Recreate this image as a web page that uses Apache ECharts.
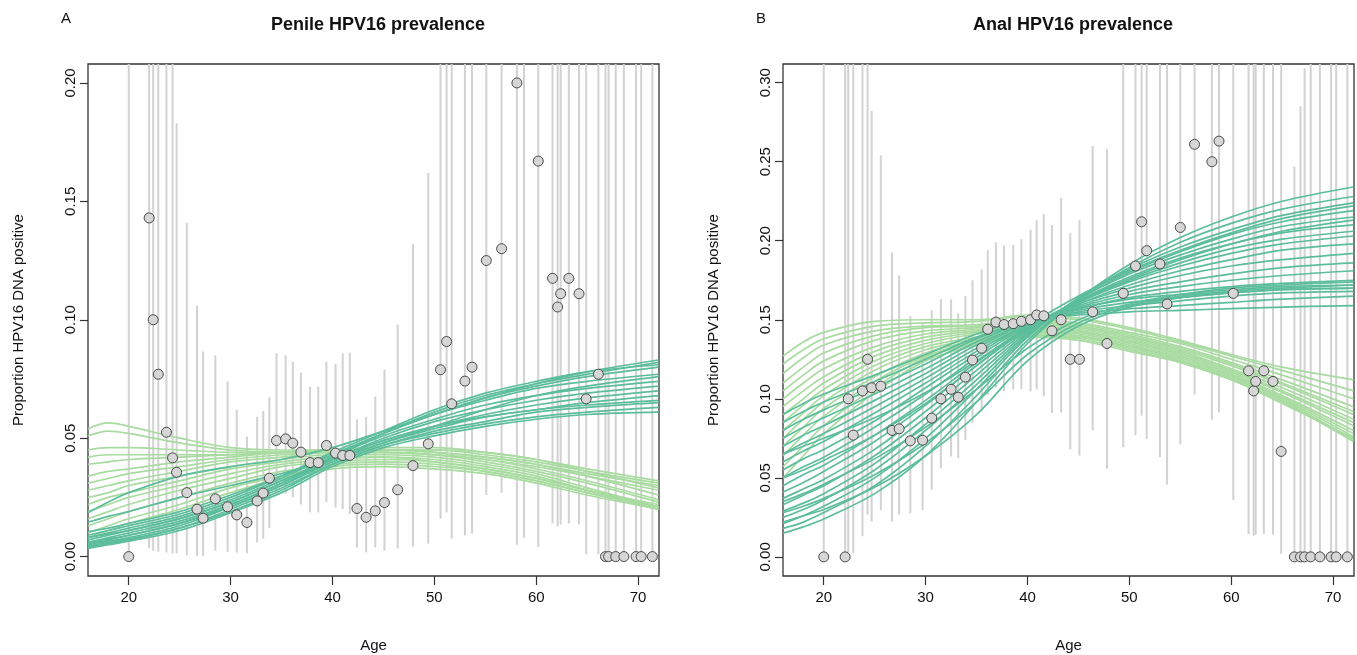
<!DOCTYPE html>
<html>
<head>
<meta charset="utf-8">
<title>HPV16 prevalence</title>
<script src="https://cdn.jsdelivr.net/npm/echarts@6/dist/echarts.min.js"></script>
<style>
  html, body { margin: 0; padding: 0; background: #fff; }
  #chart { width: 1357px; height: 655px; }
</style>
</head>
<body>
<div id="chart"></div>
<script>
const curveAges = [16, 18, 20, 25, 30, 35, 40, 45, 50, 55, 60, 65, 72]
const ageTicks = [20, 30, 40, 50, 60, 70]
const penileTicks = [0, 0.05, 0.10, 0.15, 0.20]
const analTicks = [0, 0.05, 0.10, 0.15, 0.20, 0.25, 0.30]

// panel A: observed prevalence with 95% CI (0.5 = runs off the top)
const penileAge = [20.0, 22.0, 22.4, 22.9, 23.7, 24.3, 24.7, 25.7, 26.7, 27.3, 28.5, 29.7, 30.6, 31.6, 32.6, 33.2, 33.8, 34.5, 35.4, 36.1, 36.9, 37.8, 38.6, 39.4, 40.3, 41.0, 41.7, 42.4, 43.3, 44.2, 45.1, 46.4, 47.9, 49.4, 50.6, 51.2, 51.7, 53.0, 53.7, 55.1, 56.6, 58.1, 58.8, 60.2, 61.6, 62.1, 62.4, 63.2, 64.2, 64.9, 66.1, 66.8, 67.1, 67.8, 68.6, 69.8, 70.3, 71.4]
const penileProp = [0, 0.143, 0.100, 0.077, 0.0525, 0.0417, 0.0356, 0.027, 0.020, 0.0162, 0.0244, 0.021, 0.0176, 0.0144, 0.0235, 0.0268, 0.0331, 0.049, 0.0497, 0.0479, 0.0441, 0.0397, 0.0397, 0.0469, 0.0437, 0.0427, 0.0427, 0.0203, 0.0166, 0.0193, 0.0228, 0.0282, 0.0384, 0.0476, 0.0789, 0.0908, 0.0645, 0.0741, 0.080, 0.125, 0.130, 0.200, 0.333, 0.167, 0.1175, 0.1054, 0.111, 0.1175, 0.111, 0.0666, 0.077, 0, 0, 0, 0, 0, 0, 0]
const penileLow = [0, 0.0035, 0.0025, 0.002, 0.0017, 0.0014, 0.0014, 0.0006, 0.0003, 0.0002, 0.0025, 0.002, 0.0017, 0.0014, 0.006, 0.0075, 0.012, 0.027, 0.0265, 0.025, 0.022, 0.0186, 0.0186, 0.023, 0.0207, 0.020, 0.018, 0.0038, 0.0017, 0.0038, 0.0025, 0.0034, 0.0042, 0.0055, 0.016, 0.0186, 0.0076, 0.0089, 0.0097, 0.026, 0.027, 0.005, 0.008, 0.004, 0.014, 0.0127, 0.0135, 0.014, 0.0135, 0.001, 0.001, 0, 0, 0, 0, 0, 0, 0]
const penileHigh = [0.5, 0.5, 0.5, 0.5, 0.5, 0.5, 0.183, 0.141, 0.106, 0.0866, 0.085, 0.074, 0.062, 0.0507, 0.059, 0.0615, 0.0673, 0.0859, 0.085, 0.0823, 0.0777, 0.0718, 0.0718, 0.0823, 0.0814, 0.0859, 0.0861, 0.058, 0.059, 0.0676, 0.079, 0.098, 0.132, 0.162, 0.5, 0.5, 0.5, 0.5, 0.5, 0.5, 0.5, 0.5, 0.5, 0.5, 0.5, 0.5, 0.5, 0.5, 0.5, 0.5, 0.5, 0.5, 0.5, 0.5, 0.5, 0.5, 0.5, 0.5]

// panel B
const analAge = [20.0, 22.1, 22.4, 22.9, 23.8, 24.3, 24.7, 25.6, 26.7, 27.4, 28.5, 29.7, 30.6, 31.5, 32.5, 33.2, 33.9, 34.6, 35.5, 36.1, 36.9, 37.7, 38.6, 39.4, 40.3, 40.9, 41.6, 42.4, 43.3, 44.2, 45.1, 46.4, 47.8, 49.4, 50.6, 51.2, 51.7, 53.0, 53.7, 55.0, 56.4, 58.1, 58.8, 60.2, 61.7, 62.2, 62.4, 63.2, 64.1, 64.9, 66.2, 66.8, 67.2, 67.8, 68.7, 69.8, 70.3, 71.4]
const analProp = [0, 0, 0.100, 0.077, 0.105, 0.125, 0.107, 0.108, 0.080, 0.081, 0.0734, 0.0738, 0.0878, 0.100, 0.106, 0.101, 0.1137, 0.1245, 0.132, 0.144, 0.1485, 0.147, 0.1475, 0.149, 0.150, 0.153, 0.1525, 0.143, 0.150, 0.125, 0.125, 0.155, 0.135, 0.1667, 0.184, 0.212, 0.1937, 0.1853, 0.160, 0.2084, 0.261, 0.250, 0.263, 0.1667, 0.1177, 0.105, 0.111, 0.1177, 0.111, 0.0667, 0, 0, 0, 0, 0, 0, 0, 0]
const analLow = [0, 0, 0.003, 0.0025, 0.013, 0.0266, 0.0223, 0.0297, 0.0223, 0.0266, 0.0276, 0.0297, 0.0424, 0.056, 0.0635, 0.0625, 0.074, 0.0846, 0.092, 0.1025, 0.107, 0.105, 0.106, 0.106, 0.1046, 0.106, 0.1015, 0.091, 0.0913, 0.068, 0.064, 0.080, 0.0557, 0.0694, 0.077, 0.0894, 0.0745, 0.063, 0.0456, 0.0713, 0.1025, 0.0867, 0.0913, 0.036, 0.0144, 0.0133, 0.014, 0.0144, 0.014, 0.002, 0, 0, 0, 0, 0, 0, 0, 0]
const analHigh = [0.5, 0.5, 0.5, 0.5, 0.5, 0.5, 0.282, 0.254, 0.1926, 0.178, 0.1525, 0.148, 0.156, 0.163, 0.163, 0.154, 0.165, 0.175, 0.182, 0.194, 0.199, 0.197, 0.1975, 0.201, 0.207, 0.213, 0.217, 0.210, 0.227, 0.205, 0.213, 0.260, 0.258, 0.5, 0.5, 0.5, 0.5, 0.5, 0.5, 0.5, 0.5, 0.5, 0.5, 0.5, 0.5, 0.5, 0.5, 0.5, 0.5, 0.5, 0.247, 0.285, 0.309, 0.5, 0.5, 0.5, 0.5, 0.5]

// fitted curves, one row per curve, values at curveAges
const penileLight = [
  [0.054, 0.0565, 0.055, 0.050, 0.046, 0.045, 0.045, 0.045, 0.044, 0.042, 0.039, 0.035, 0.030],
  [0.051, 0.053, 0.052, 0.048, 0.045, 0.044, 0.044, 0.044, 0.043, 0.041, 0.038, 0.034, 0.028],
  [0.045, 0.046, 0.046, 0.045, 0.044, 0.044, 0.044, 0.045, 0.045, 0.043, 0.040, 0.036, 0.031],
  [0.042, 0.043, 0.043, 0.043, 0.043, 0.044, 0.045, 0.045, 0.045, 0.044, 0.041, 0.037, 0.032],
  [0.039, 0.040, 0.041, 0.042, 0.043, 0.044, 0.045, 0.046, 0.046, 0.044, 0.041, 0.036, 0.029],
  [0.034, 0.036, 0.037, 0.040, 0.042, 0.044, 0.045, 0.045, 0.044, 0.042, 0.039, 0.034, 0.026],
  [0.031, 0.033, 0.035, 0.038, 0.041, 0.043, 0.044, 0.044, 0.043, 0.041, 0.037, 0.032, 0.024],
  [0.028, 0.030, 0.032, 0.036, 0.040, 0.042, 0.044, 0.044, 0.043, 0.040, 0.036, 0.031, 0.023],
  [0.025, 0.027, 0.030, 0.034, 0.038, 0.041, 0.043, 0.043, 0.042, 0.039, 0.035, 0.029, 0.021],
  [0.022, 0.025, 0.027, 0.032, 0.037, 0.040, 0.042, 0.042, 0.041, 0.038, 0.034, 0.028, 0.020],
  [0.019, 0.022, 0.025, 0.030, 0.035, 0.039, 0.041, 0.042, 0.040, 0.037, 0.033, 0.028, 0.021],
  [0.016, 0.019, 0.022, 0.028, 0.033, 0.038, 0.040, 0.041, 0.040, 0.037, 0.033, 0.028, 0.022],
  [0.013, 0.016, 0.019, 0.025, 0.031, 0.036, 0.039, 0.040, 0.039, 0.036, 0.032, 0.027, 0.021],
  [0.010, 0.013, 0.016, 0.022, 0.029, 0.034, 0.038, 0.039, 0.038, 0.036, 0.032, 0.027, 0.020],
  [0.008, 0.011, 0.014, 0.020, 0.027, 0.033, 0.037, 0.038, 0.037, 0.035, 0.031, 0.026, 0.020]
]
const penileTeal = [
  [0.0185, 0.023, 0.027, 0.034, 0.038, 0.041, 0.046, 0.053, 0.060, 0.067, 0.073, 0.078, 0.083],
  [0.0145, 0.017, 0.019, 0.025, 0.030, 0.035, 0.041, 0.048, 0.055, 0.062, 0.068, 0.072, 0.076],
  [0.0105, 0.012, 0.014, 0.019, 0.026, 0.034, 0.043, 0.052, 0.060, 0.067, 0.072, 0.076, 0.080],
  [0.009, 0.011, 0.013, 0.018, 0.025, 0.034, 0.044, 0.053, 0.062, 0.069, 0.074, 0.078, 0.081],
  [0.008, 0.010, 0.012, 0.017, 0.024, 0.033, 0.043, 0.052, 0.060, 0.066, 0.071, 0.074, 0.077],
  [0.007, 0.009, 0.011, 0.016, 0.023, 0.032, 0.042, 0.051, 0.058, 0.064, 0.068, 0.071, 0.074],
  [0.006, 0.008, 0.010, 0.015, 0.022, 0.031, 0.041, 0.050, 0.057, 0.062, 0.066, 0.069, 0.072],
  [0.0055, 0.007, 0.009, 0.014, 0.021, 0.030, 0.041, 0.049, 0.055, 0.060, 0.064, 0.067, 0.070],
  [0.005, 0.0065, 0.008, 0.013, 0.021, 0.030, 0.040, 0.048, 0.054, 0.059, 0.062, 0.065, 0.068],
  [0.0045, 0.006, 0.0075, 0.012, 0.020, 0.029, 0.039, 0.047, 0.053, 0.057, 0.061, 0.063, 0.065],
  [0.004, 0.0055, 0.007, 0.012, 0.019, 0.028, 0.039, 0.047, 0.052, 0.056, 0.059, 0.061, 0.063],
  [0.0035, 0.005, 0.0065, 0.011, 0.0185, 0.027, 0.038, 0.046, 0.051, 0.055, 0.058, 0.060, 0.061],
  [0.006, 0.0075, 0.009, 0.014, 0.022, 0.031, 0.042, 0.052, 0.061, 0.068, 0.073, 0.077, 0.082],
  [0.008, 0.0095, 0.011, 0.016, 0.023, 0.032, 0.041, 0.049, 0.055, 0.059, 0.062, 0.064, 0.066]
]
const analLight = [
  [0.127, 0.136, 0.142, 0.149, 0.150, 0.150, 0.152, 0.150, 0.144, 0.136, 0.127, 0.118, 0.105],
  [0.122, 0.131, 0.138, 0.146, 0.148, 0.149, 0.153, 0.151, 0.145, 0.137, 0.128, 0.120, 0.112],
  [0.116, 0.126, 0.134, 0.143, 0.146, 0.147, 0.150, 0.148, 0.142, 0.135, 0.125, 0.115, 0.100],
  [0.110, 0.120, 0.129, 0.140, 0.145, 0.146, 0.149, 0.147, 0.141, 0.133, 0.123, 0.112, 0.095],
  [0.105, 0.115, 0.124, 0.137, 0.143, 0.145, 0.148, 0.146, 0.140, 0.132, 0.122, 0.110, 0.092],
  [0.100, 0.110, 0.119, 0.133, 0.141, 0.144, 0.147, 0.145, 0.139, 0.131, 0.121, 0.109, 0.090],
  [0.095, 0.105, 0.114, 0.130, 0.139, 0.143, 0.146, 0.144, 0.138, 0.130, 0.119, 0.107, 0.087],
  [0.090, 0.100, 0.110, 0.127, 0.137, 0.142, 0.145, 0.143, 0.137, 0.129, 0.118, 0.105, 0.085],
  [0.085, 0.096, 0.106, 0.124, 0.135, 0.141, 0.144, 0.142, 0.136, 0.128, 0.117, 0.104, 0.083],
  [0.080, 0.091, 0.102, 0.121, 0.133, 0.139, 0.143, 0.141, 0.135, 0.127, 0.116, 0.102, 0.080],
  [0.075, 0.087, 0.098, 0.118, 0.131, 0.138, 0.142, 0.140, 0.134, 0.126, 0.115, 0.101, 0.078],
  [0.070, 0.082, 0.094, 0.114, 0.129, 0.137, 0.141, 0.139, 0.133, 0.125, 0.114, 0.100, 0.076],
  [0.064, 0.077, 0.089, 0.111, 0.127, 0.136, 0.140, 0.139, 0.132, 0.124, 0.113, 0.099, 0.074],
  [0.057, 0.070, 0.083, 0.107, 0.126, 0.135, 0.140, 0.138, 0.131, 0.123, 0.112, 0.098, 0.073],
  [0.050, 0.064, 0.078, 0.104, 0.124, 0.134, 0.139, 0.137, 0.130, 0.123, 0.112, 0.097, 0.075]
]
const analTeal = [
  [0.015, 0.019, 0.024, 0.040, 0.064, 0.098, 0.135, 0.163, 0.185, 0.202, 0.215, 0.225, 0.234],
  [0.018, 0.022, 0.028, 0.045, 0.070, 0.102, 0.137, 0.163, 0.183, 0.199, 0.211, 0.220, 0.228],
  [0.021, 0.026, 0.032, 0.050, 0.075, 0.106, 0.139, 0.164, 0.182, 0.196, 0.207, 0.216, 0.224],
  [0.025, 0.030, 0.036, 0.055, 0.080, 0.109, 0.140, 0.163, 0.180, 0.193, 0.204, 0.212, 0.219],
  [0.029, 0.034, 0.040, 0.059, 0.084, 0.112, 0.141, 0.163, 0.179, 0.191, 0.201, 0.209, 0.215],
  [0.033, 0.039, 0.045, 0.064, 0.088, 0.115, 0.142, 0.162, 0.177, 0.189, 0.198, 0.205, 0.210],
  [0.037, 0.043, 0.049, 0.068, 0.092, 0.118, 0.143, 0.161, 0.175, 0.186, 0.195, 0.201, 0.206],
  [0.041, 0.047, 0.054, 0.073, 0.096, 0.121, 0.144, 0.161, 0.174, 0.184, 0.192, 0.198, 0.203],
  [0.045, 0.052, 0.058, 0.077, 0.099, 0.123, 0.145, 0.160, 0.172, 0.181, 0.188, 0.194, 0.198],
  [0.050, 0.057, 0.063, 0.082, 0.103, 0.126, 0.146, 0.160, 0.170, 0.178, 0.184, 0.188, 0.192],
  [0.055, 0.062, 0.068, 0.086, 0.107, 0.128, 0.147, 0.159, 0.168, 0.174, 0.179, 0.183, 0.186],
  [0.060, 0.067, 0.073, 0.091, 0.110, 0.130, 0.147, 0.158, 0.166, 0.171, 0.175, 0.178, 0.181],
  [0.065, 0.072, 0.078, 0.095, 0.113, 0.132, 0.148, 0.157, 0.164, 0.168, 0.171, 0.173, 0.175],
  [0.070, 0.077, 0.083, 0.099, 0.116, 0.134, 0.148, 0.157, 0.163, 0.166, 0.169, 0.171, 0.172],
  [0.075, 0.082, 0.088, 0.103, 0.119, 0.136, 0.149, 0.156, 0.161, 0.164, 0.167, 0.169, 0.170],
  [0.080, 0.087, 0.093, 0.107, 0.122, 0.138, 0.149, 0.155, 0.159, 0.162, 0.165, 0.167, 0.168],
  [0.085, 0.092, 0.098, 0.111, 0.125, 0.139, 0.149, 0.154, 0.157, 0.159, 0.161, 0.163, 0.165],
  [0.090, 0.097, 0.103, 0.115, 0.128, 0.141, 0.150, 0.153, 0.155, 0.156, 0.157, 0.158, 0.159],
  [0.035, 0.040, 0.046, 0.062, 0.082, 0.106, 0.132, 0.150, 0.160, 0.166, 0.170, 0.172, 0.174],
  [0.028, 0.032, 0.037, 0.052, 0.072, 0.098, 0.128, 0.148, 0.159, 0.165, 0.168, 0.170, 0.172],
  [0.022, 0.026, 0.030, 0.044, 0.064, 0.090, 0.124, 0.146, 0.158, 0.164, 0.167, 0.169, 0.170],
  [0.065, 0.070, 0.075, 0.088, 0.104, 0.124, 0.145, 0.162, 0.176, 0.188, 0.198, 0.206, 0.213],
  [0.050, 0.055, 0.061, 0.077, 0.097, 0.121, 0.146, 0.165, 0.181, 0.194, 0.205, 0.214, 0.222]
]

const LIGHT = '#a8dba0'
const TEAL = '#5cbd9c'
const FONT = 'Liberation Sans, Arial, Helvetica, sans-serif'

function curveSeries(list, color, idx) {
  return list.map(vals => ({
    type: 'line',
    xAxisIndex: idx,
    yAxisIndex: idx,
    data: vals.map((v, i) => [curveAges[i], v]),
    smooth: 0.35,
    symbol: 'none',
    silent: true,
    clip: true,
    lineStyle: { color: color, width: 1.7 },
    z: 3
  }))
}

function barSeries(ages, low, high, idx) {
  return {
    type: 'custom',
    xAxisIndex: idx,
    yAxisIndex: idx,
    clip: true,
    silent: true,
    z: 2,
    data: ages.map((a, i) => [a, low[i], high[i]]),
    encode: { x: 0, y: [1, 2] },
    renderItem(params, api) {
      const p1 = api.coord([api.value(0), api.value(1)])
      const p2 = api.coord([api.value(0), api.value(2)])
      return {
        type: 'line',
        shape: { x1: p1[0], y1: p1[1], x2: p2[0], y2: p2[1] },
        style: { stroke: '#d2d2d2', lineWidth: 2 }
      }
    }
  }
}

function pointSeries(ages, props, idx) {
  return {
    type: 'scatter',
    xAxisIndex: idx,
    yAxisIndex: idx,
    clip: true,
    silent: true,
    z: 5,
    symbolSize: 10,
    data: ages.map((a, i) => [a, props[i]]),
    itemStyle: { color: '#d6d6d6', borderColor: '#4a4a4a', borderWidth: 1, opacity: 1 }
  }
}

function xAxisFor(idx) {
  return {
    gridIndex: idx,
    type: 'value',
    min: 16,
    max: 72.05,
    name: 'Age',
    nameLocation: 'middle',
    nameGap: 62,
    nameTextStyle: { fontSize: 15, color: '#111', fontFamily: FONT },
    splitLine: { show: false },
    axisLine: { show: false, onZero: false },
    axisTick: { show: true, length: 9, customValues: ageTicks, lineStyle: { color: '#333', width: 1.2 } },
    axisLabel: { customValues: ageTicks, fontSize: 15, color: '#111', margin: 14, fontFamily: FONT }
  }
}

function yAxisFor(idx, min, max, ticks) {
  return {
    gridIndex: idx,
    type: 'value',
    min: min,
    max: max,
    name: 'Proportion HPV16 DNA positive',
    nameLocation: 'middle',
    nameGap: 62,
    nameTextStyle: { fontSize: 15, color: '#111', fontFamily: FONT },
    splitLine: { show: false },
    axisLine: { show: false, onZero: false },
    axisTick: { show: true, length: 8, customValues: ticks, lineStyle: { color: '#333', width: 1.2 } },
    axisLabel: {
      customValues: ticks,
      rotate: 90,
      fontSize: 15,
      color: '#111',
      margin: 10,
      fontFamily: FONT,
      formatter: v => v.toFixed(2)
    }
  }
}

const gridBase = {
  top: 64, width: 571, height: 512, show: true,
  borderColor: '#333', borderWidth: 1.3, backgroundColor: 'transparent',
  containLabel: false, outerBoundsMode: 'none'
}

const chart = echarts.init(document.getElementById('chart'))
chart.setOption({
  animation: false,
  backgroundColor: '#fff',
  title: [
    { text: 'Penile HPV16 prevalence', left: 373, top: 11, textAlign: 'center',
      textStyle: { fontSize: 18, fontWeight: 'bold', color: '#111', fontFamily: FONT } },
    { text: 'Anal HPV16 prevalence', left: 1068, top: 11, textAlign: 'center',
      textStyle: { fontSize: 18, fontWeight: 'bold', color: '#111', fontFamily: FONT } },
    { text: 'A', left: 56, top: 6, textStyle: { fontSize: 15, fontWeight: 'normal', color: '#111', fontFamily: FONT } },
    { text: 'B', left: 751, top: 6, textStyle: { fontSize: 15, fontWeight: 'normal', color: '#111', fontFamily: FONT } }
  ],
  grid: [
    Object.assign({ left: 88 }, gridBase),
    Object.assign({ left: 783 }, gridBase)
  ],
  xAxis: [xAxisFor(0), xAxisFor(1)],
  yAxis: [
    yAxisFor(0, -0.0082, 0.208, penileTicks),
    yAxisFor(1, -0.0121, 0.3118, analTicks)
  ],
  series: [
    barSeries(penileAge, penileLow, penileHigh, 0),
    barSeries(analAge, analLow, analHigh, 1),
    ...curveSeries(penileLight, LIGHT, 0),
    ...curveSeries(penileTeal, TEAL, 0),
    ...curveSeries(analLight, LIGHT, 1),
    ...curveSeries(analTeal, TEAL, 1),
    pointSeries(penileAge, penileProp, 0),
    pointSeries(analAge, analProp, 1)
  ]
})
</script>
</body>
</html>
